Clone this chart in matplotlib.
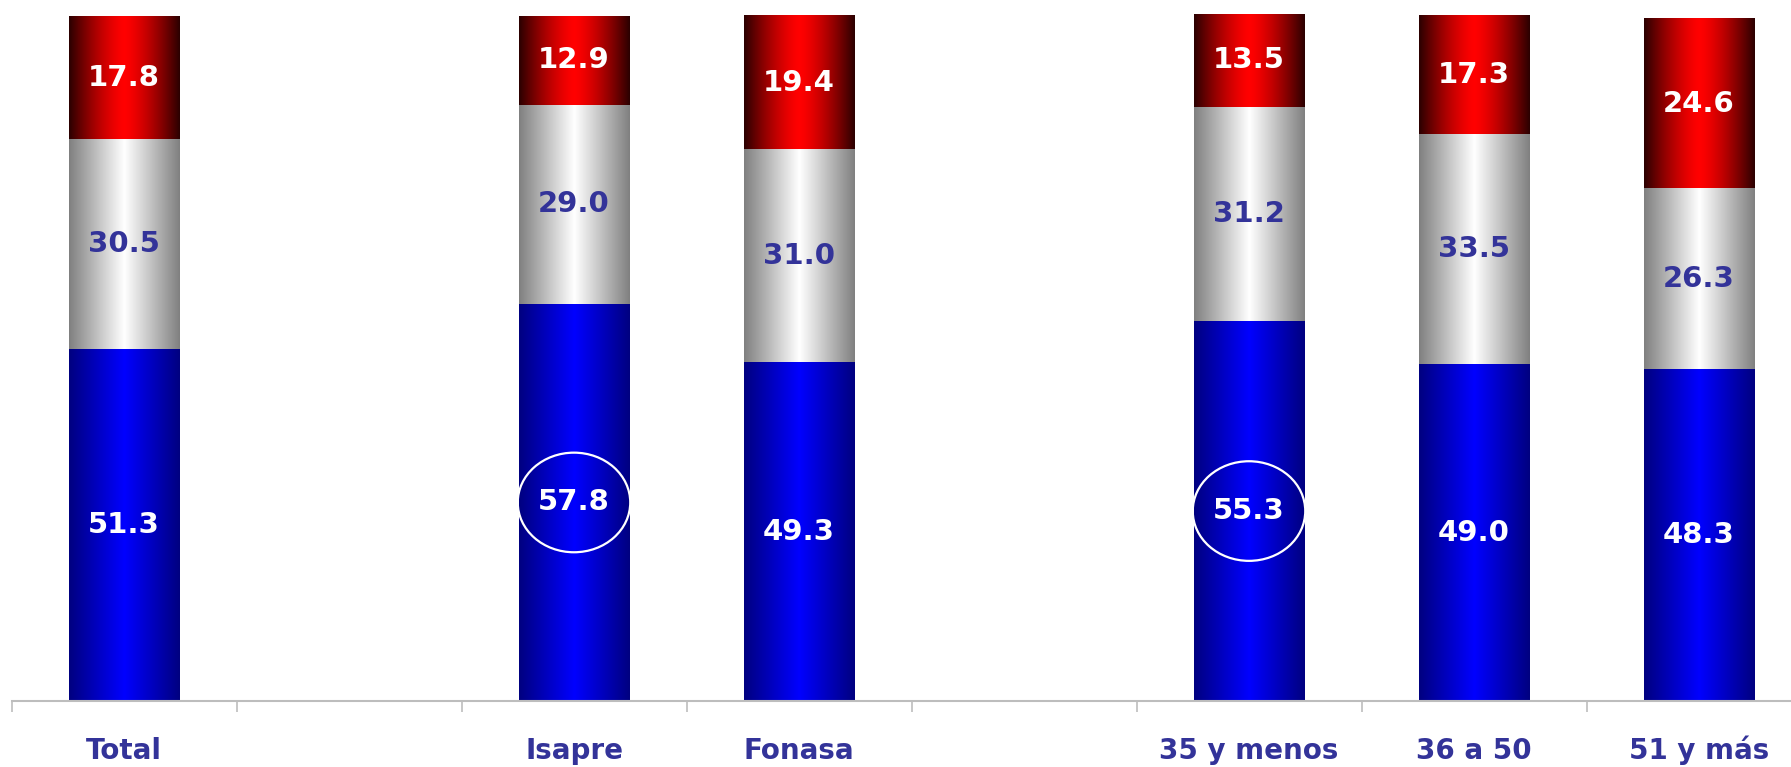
import matplotlib
matplotlib.use('Agg')
import matplotlib.pyplot as plt
import numpy as np
from matplotlib.patches import Ellipse
from matplotlib.colors import LinearSegmentedColormap

nan = np.nan
categories = ['Total', '', 'Isapre', 'Fonasa', '', '35 y menos', '36 a 50', '51 y más']
blue_vals = [51.3, nan, 57.8, 49.3, nan, 55.3, 49.0, 48.3]
gray_vals = [30.5, nan, 29.0, 31.0, nan, 31.2, 33.5, 26.3]
red_vals = [17.8, nan, 12.9, 19.4, nan, 13.5, 17.3, 24.6]
highlighted = ['Isapre', '35 y menos']

LABEL_BLUE = '#333399'
series = [
    (blue_vals, ('#000080', '#0000FF'), 'white', 1.0),
    (gray_vals, ('#808080', '#FFFFFF'), LABEL_BLUE, 1.0),
    (red_vals, ('#2B0000', '#FF0000'), 'white', 1.4),
]

fig = plt.figure(figsize=(17.91, 7.67), dpi=100)
ax = fig.add_axes([11.5 / 1791, 66 / 767, 1800 / 1791, 687 / 767])

x = np.arange(len(categories))
bottoms = np.zeros(len(categories))
t = np.linspace(-1, 1, 256)

for vals, (edge, center), txtcolor, expo in series:
    vals = np.array(vals, dtype=float)
    cmap = LinearSegmentedColormap.from_list('g', [edge, center])
    grad = (1 - np.abs(t) ** expo)[None, :]
    bars = ax.bar(x, np.nan_to_num(vals), 0.49, bottom=bottoms, color='none', linewidth=0)
    for rect, v in zip(bars, vals):
        if np.isnan(v):
            continue
        x0, w = rect.get_x(), rect.get_width()
        y0, h = rect.get_y(), rect.get_height()
        ax.imshow(grad, cmap=cmap, extent=[x0, x0 + w, y0, y0 + h], aspect='auto',
                  interpolation='bilinear', zorder=2)
        ax.text(x0 + w / 2, y0 + h / 2, f'{v:.1f}', ha='center', va='center',
                color=txtcolor, fontsize=21, fontweight='bold', family='DejaVu Sans', zorder=5)
    bottoms = bottoms + np.nan_to_num(vals)

for cat in highlighted:
    i = categories.index(cat)
    ax.add_patch(Ellipse((i, blue_vals[i] / 2), width=0.5, height=14.5, fill=False,
                         edgecolor='white', lw=1.6, zorder=4))

ax.set_xlim(-0.5, len(categories) - 0.5)
ax.set_ylim(0, 100)
ax.set_xticks(np.arange(-0.5, len(categories), 1))
ax.set_xticklabels([])
ax.set_xticks(x, minor=True)
ax.set_xticklabels(categories, minor=True)
ax.tick_params(axis='x', which='major', length=8, color='#BDBDBD', width=1.2)
ax.tick_params(axis='x', which='minor', length=0, pad=42, labelsize=20, labelcolor=LABEL_BLUE)
for lab in ax.get_xticklabels(minor=True):
    lab.set_fontweight('bold')
    lab.set_verticalalignment('baseline')
ax.set_yticks([])
for s in ['top', 'right', 'left']:
    ax.spines[s].set_visible(False)
ax.spines['bottom'].set_color('#BDBDBD')
ax.spines['bottom'].set_linewidth(1.5)

fig.savefig('out.png', dpi=100)
